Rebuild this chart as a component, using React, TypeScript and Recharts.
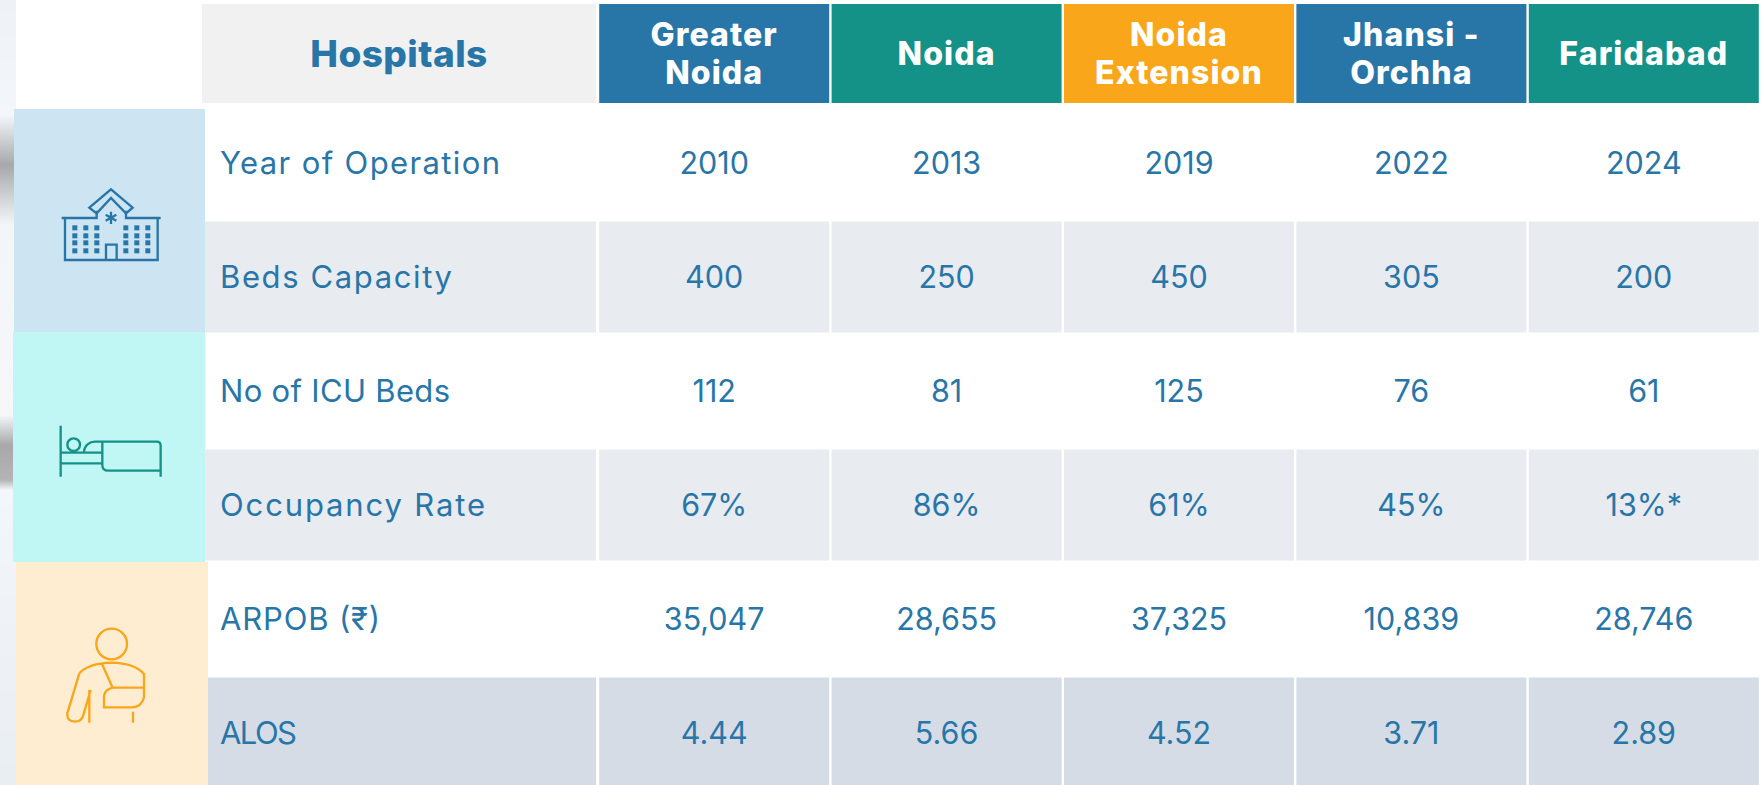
import { Scatter, ScatterChart, XAxis, YAxis } from "recharts"

const hospitals = ["Greater Noida", "Noida", "Noida Extension", "Jhansi - Orchha", "Faridabad"]
const metrics = ["Year of Operation", "Beds Capacity", "No of ICU Beds", "Occupancy Rate", "ARPOB (₹)", "ALOS"]

const yearOfOperation = ["2010", "2013", "2019", "2022", "2024"]
const bedsCapacity = ["400", "250", "450", "305", "200"]
const icuBeds = ["112", "81", "125", "76", "61"]
const occupancyRate = ["67%", "86%", "61%", "45%", "13%*"]
const arpob = ["35,047", "28,655", "37,325", "10,839", "28,746"]
const alos = ["4.44", "5.66", "4.52", "3.71", "2.89"]

const rowValues = [yearOfOperation, bedsCapacity, icuBeds, occupancyRate, arpob, alos]

const cells = metrics.flatMap((metric, r) =>
  hospitals.map((hospital, c) => ({ hospital, metric, label: rowValues[r][c], row: r })),
)

const FONT = "Inter, sans-serif"
const BLUE = "#2876A8"
const TEAL = "#149287"
const ORANGE = "#FAA61A"
const headerFills = [BLUE, TEAL, ORANGE, BLUE, TEAL]
const headerLines = [["Greater", "Noida"], ["Noida"], ["Noida", "Extension"], ["Jhansi -", "Orchha"], ["Faridabad"]]
// no Poppins here, so the row labels get stretched to the widths in the picture
const metricLabelWidths = [280, 232, 230, 265, 160, 77]

const CELL_W = 230
const CELL_H = 111

const rowFill = (row: number) => (row === 5 ? "#D6DCE6" : row % 2 === 1 ? "#E8EBF0" : "none")

function ValueCell({ cx, cy, payload }: any) {
  return (
    <g>
      <rect x={cx - CELL_W / 2} y={cy - CELL_H / 2} width={CELL_W} height={CELL_H} fill={rowFill(payload.row)} />
      <text x={cx} y={cy + 11} textAnchor="middle" fontFamily={FONT} fontSize={30.5} fill={BLUE}>
        {payload.label}
      </text>
    </g>
  )
}

function HeaderTick({ x, payload }: any) {
  const index = hospitals.indexOf(payload.value)
  const lines = headerLines[index]
  return (
    <g>
      {index === 0 && (
        <g>
          <rect x={202} y={4} width={394} height={99} fill="#F1F1F2" />
          <text x={399} y={67} textAnchor="middle" fontFamily={FONT} fontWeight={800} fontSize={37} letterSpacing={0.4} fill={BLUE}>
            Hospitals
          </text>
        </g>
      )}
      <rect x={x - CELL_W / 2} y={4} width={CELL_W} height={99} fill={headerFills[index]} />
      {lines.map((line: string, i: number) => (
        <text
          key={line}
          x={x}
          y={lines.length === 1 ? 65 : 46 + i * 37.5}
          textAnchor="middle"
          fontFamily={FONT}
          fontWeight={800}
          fontSize={32}
          letterSpacing={1.1}
          fill="#fff"
        >
          {line}
        </text>
      ))}
    </g>
  )
}

function HospitalIcon() {
  const wx = [97, 130, 163, 250, 283, 316]
  const wy = [166, 190, 211, 235]
  return (
    <g transform="translate(40,170) scale(0.3333)" fill="none" stroke={BLUE} strokeWidth={7}>
      <path d="M75 143V270H353V143M65 144H170V122M258 122V144H362" />
      <path d="M148 113L213 58L278 113L258 130L213 84L170 130Z" />
      <path d="M213 125V162M197 134L229 152M229 134L197 152" />
      <path d="M198 268V224H230V268" />
      {wx.flatMap((a) => wy.map((b) => <rect key={`${a}-${b}`} x={a} y={b} width={15} height={15} fill={BLUE} stroke="none" />))}
    </g>
  )
}

function BedIcon() {
  return (
    <g transform="translate(40,410) scale(0.3333)" fill="none" stroke={TEAL} strokeWidth={7}>
      <path d="M62 47V200M62 128H187M62 160H187M132 128C132 105 150 95 165 95H350Q362 95 362 107V200M187 95V165Q187 182 205 182H362" />
      <circle cx={101} cy={104} r={19} />
    </g>
  )
}

function SlingIcon() {
  return (
    <g transform="translate(40,610) scale(0.3333)" fill="none" stroke={ORANGE} strokeWidth={7}>
      <circle cx={215} cy={102} r={46} />
      <path d="M118 190Q145 160 215 158Q285 160 312 192V262Q305 292 275 292H192V260Q192 240 218 233H312M185 160L218 233" />
      <path d="M118 190L82 310Q80 335 105 335Q125 335 130 315L152 240M148 240V338M279 305V338" />
    </g>
  )
}

const panels = [
  { x: 14, w: 191, top: -54, h: 223, fill: "#CDE4F3", Icon: HospitalIcon },
  { x: 13, w: 192, top: -59, h: 230, fill: "#C0F7F4", Icon: BedIcon },
  { x: 16, w: 192, top: -57, h: 230, fill: "#FFEDD2", Icon: SlingIcon },
]

function MetricTick({ y, payload }: any) {
  const index = metrics.indexOf(payload.value)
  const panel = panels[Math.floor(index / 2)]
  const Icon = panel.Icon
  const left = panel.x + panel.w
  return (
    <g>
      {index % 2 === 0 && (
        <g>
          <rect x={panel.x} y={y + panel.top} width={panel.w} height={panel.h} fill={panel.fill} />
          <Icon />
        </g>
      )}
      <rect x={left} y={y - CELL_H / 2} width={596 - left} height={CELL_H} fill={rowFill(index)} />
      <text
        x={220}
        y={y + 11}
        fontFamily={FONT}
        fontSize={31}
        textLength={metricLabelWidths[index]}
        lengthAdjust="spacing"
        fill={BLUE}
      >
        {payload.value}
      </text>
    </g>
  )
}

export default function App() {
  return (
    <div style={{ position: "absolute", inset: 0, width: 1762, height: 785, overflow: "hidden", background: "#fff" }}>
      <div
        style={{
          position: "absolute",
          left: 0,
          top: 0,
          width: 16,
          height: 785,
          background:
            "linear-gradient(180deg,#eef2f7 0,#f3f6fa 115px,#a8a8ac 165px,#f3f6f9 225px,#f5f7f9 415px,#a9a9a9 445px,#b4b4b4 480px,#f3f6fa 490px,#e9eef3 785px)",
        }}
      />
      <ScatterChart width={1762} height={790} margin={{ top: 0, right: 2, bottom: 0, left: 0 }} style={{ position: "absolute" }}>
        <XAxis
          xAxisId="h"
          dataKey="hospital"
          type="category"
          orientation="top"
          scale="band"
          height={106}
          domain={hospitals}
          ticks={hospitals}
          allowDuplicatedCategory={false}
          axisLine={false}
          tickLine={false}
          interval={0}
          tick={<HeaderTick />}
        />
        <YAxis
          yAxisId="m"
          dataKey="metric"
          type="category"
          scale="band"
          reversed
          width={598}
          domain={metrics}
          ticks={metrics}
          allowDuplicatedCategory={false}
          axisLine={false}
          tickLine={false}
          interval={0}
          tick={<MetricTick />}
        />
        <Scatter xAxisId="h" yAxisId="m" data={cells} isAnimationActive={false} shape={<ValueCell />} />
      </ScatterChart>
    </div>
  )
}
